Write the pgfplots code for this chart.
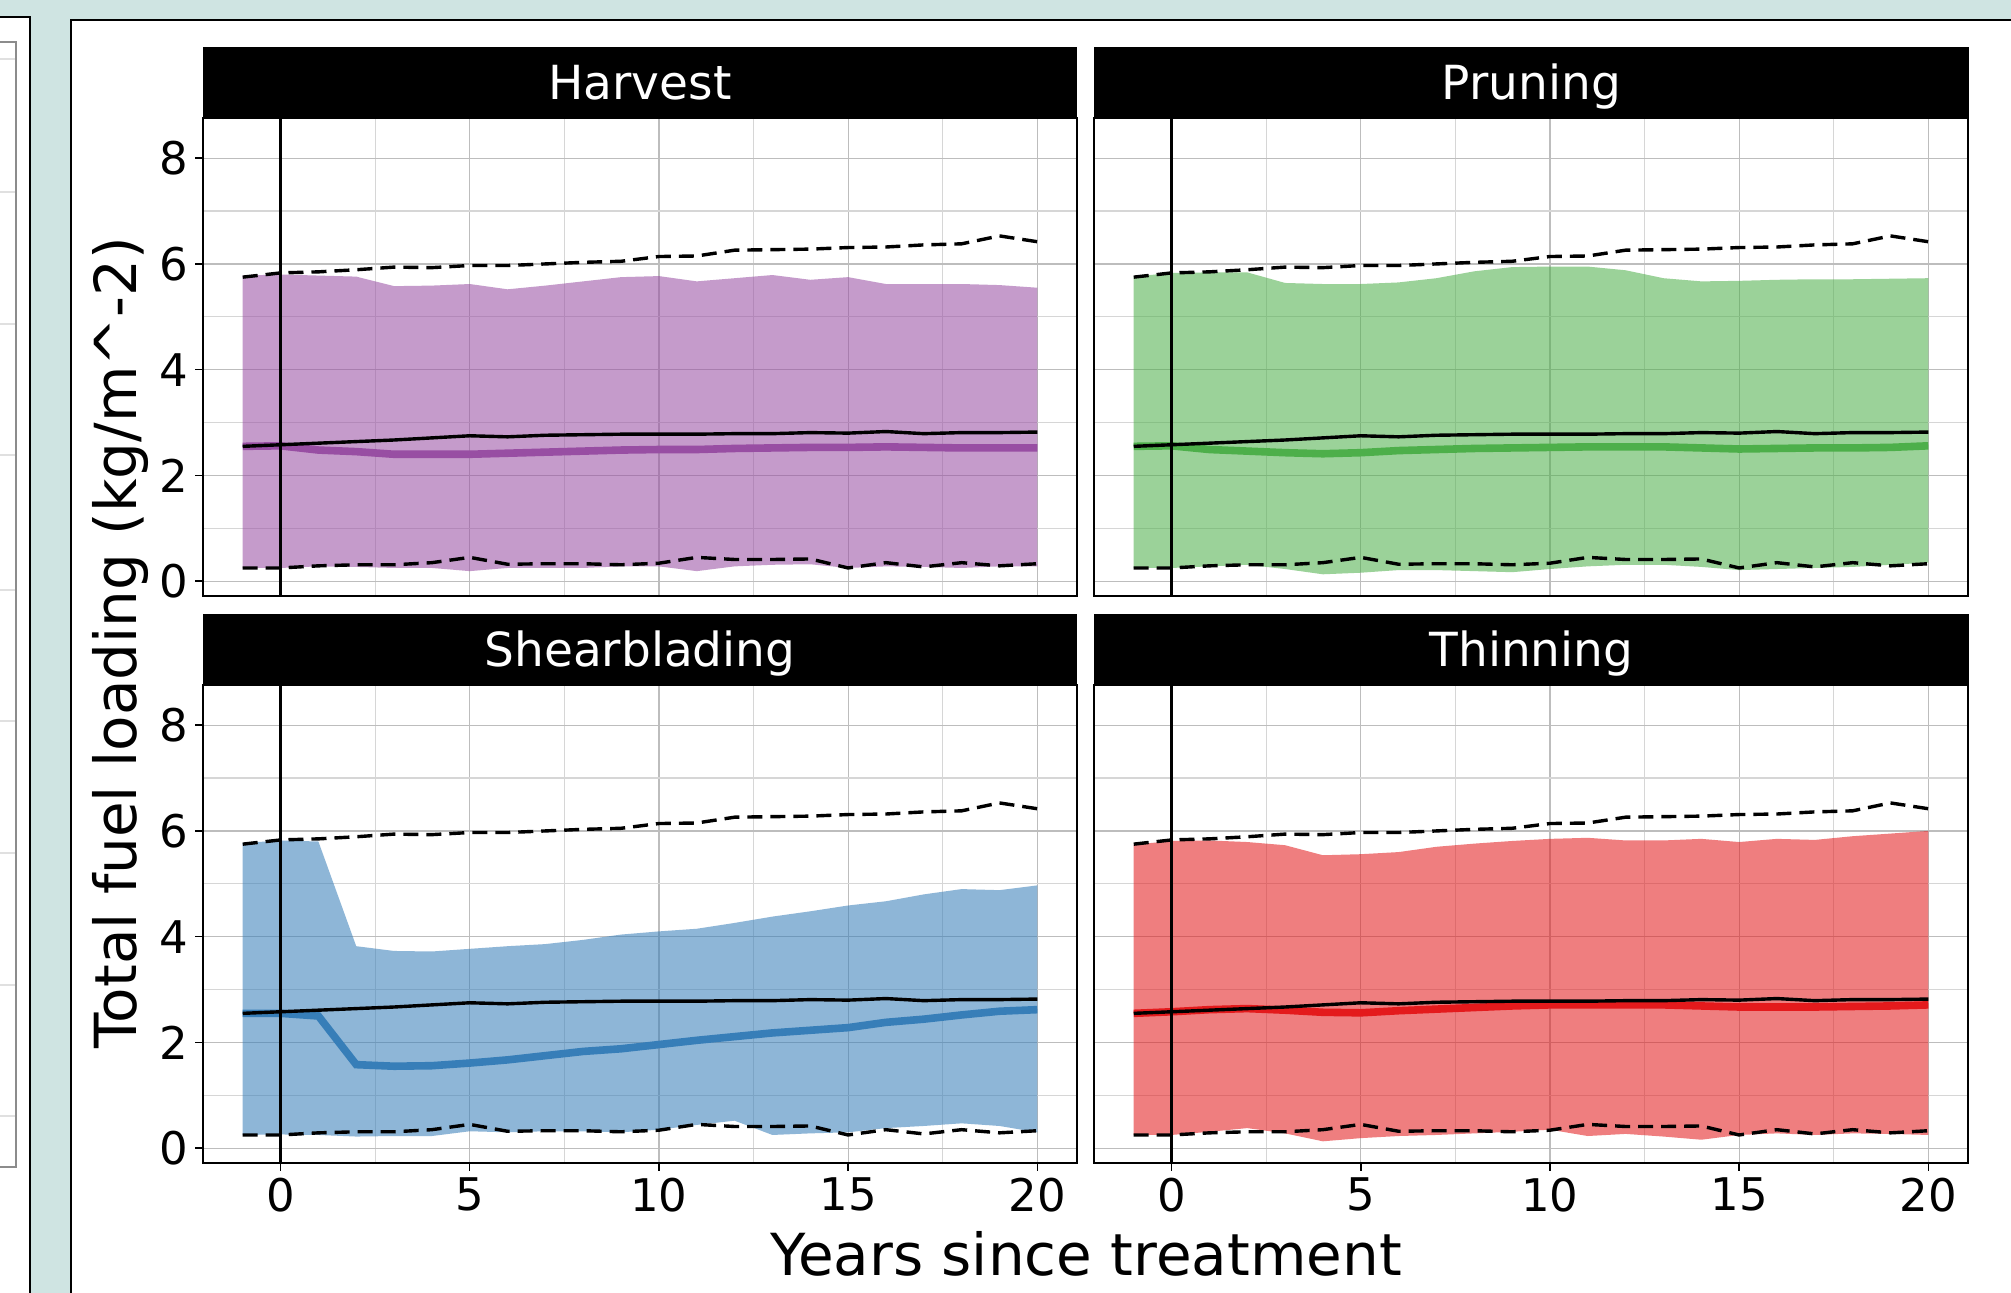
\documentclass[border=0pt]{standalone}
\usepackage{fontspec}
\setmainfont{DejaVu Sans}
\usepackage{pgfplots}
\usepackage{pgfplotstable}
\pgfplotsset{compat=1.18}

\definecolor{bgteal}{RGB}{207,228,226}
\definecolor{cpurple}{RGB}{152,78,163}
\definecolor{cgreen}{RGB}{77,175,74}
\definecolor{cblue}{RGB}{55,126,184}
\definecolor{cred}{RGB}{228,26,28}

% control (untreated) median and band, identical in all panels
\pgfplotstableread{
x ctl chi clo
-1 2.55 5.75 0.25
0 2.58 5.83 0.25
1 2.61 5.85 0.29
2 2.64 5.89 0.31
3 2.67 5.94 0.31
4 2.71 5.93 0.35
5 2.75 5.97 0.45
6 2.73 5.97 0.32
7 2.76 6.00 0.33
8 2.77 6.03 0.33
9 2.78 6.05 0.31
10 2.78 6.14 0.34
11 2.78 6.15 0.45
12 2.79 6.26 0.41
13 2.79 6.27 0.41
14 2.81 6.28 0.42
15 2.80 6.31 0.25
16 2.83 6.32 0.35
17 2.79 6.36 0.27
18 2.81 6.38 0.35
19 2.81 6.53 0.29
20 2.82 6.42 0.33
}\control

% treatment medians
\pgfplotstableread{
x harvest pruning shear thinning
-1 2.55 2.55 2.55 2.55
0 2.56 2.56 2.55 2.58
1 2.48 2.49 2.50 2.62
2 2.45 2.46 1.58 2.64
3 2.40 2.43 1.55 2.61
4 2.40 2.41 1.56 2.57
5 2.40 2.43 1.61 2.56
6 2.42 2.47 1.67 2.60
7 2.44 2.49 1.75 2.63
8 2.46 2.51 1.83 2.66
9 2.48 2.52 1.88 2.69
10 2.49 2.53 1.96 2.71
11 2.49 2.54 2.04 2.71
12 2.51 2.54 2.11 2.71
13 2.52 2.54 2.18 2.71
14 2.53 2.52 2.23 2.69
15 2.53 2.50 2.28 2.67
16 2.54 2.51 2.38 2.67
17 2.53 2.52 2.44 2.67
18 2.52 2.52 2.52 2.68
19 2.52 2.53 2.59 2.69
20 2.52 2.56 2.62 2.71
}\medians

\pgfplotsset{
  panel/.style={
    scale only axis, width=437pt, height=239pt,
    anchor=south west,
    xmin=-2.05, xmax=21.05, ymin=-0.28, ymax=8.76,
    xtick={0,5,10,15,20}, ytick={0,2,4,6,8},
    minor xtick={2.5,7.5,12.5,17.5}, minor ytick={1,3,5,7},
    grid=both,
    major grid style={draw=black!26, line width=0.6pt},
    minor grid style={draw=black!16, line width=0.6pt},
    tick align=outside, tick pos=left,
    major tick length=4pt, minor tick length=0pt,
    tick style={black, line width=0.75pt},
    axis line style={black, line width=0.6pt},
    ticklabel style={font=\fontsize{22.5}{27}\selectfont},
    /pgf/number format/assume math mode=true,
  },
  notopx/.style={xticklabels={}, xtick style={draw=none}},
  norighty/.style={yticklabels={}, ytick style={draw=none}},
}

% #1 band polygon (upper edge forward, lower edge backward), #2 median column, #3 colour
\newcommand{\panelplots}[3]{%
  \addplot[fill=#3, fill opacity=0.56, draw=none] coordinates {#1};
  \addplot[#3, line width=3.8pt] table[x=x,y=#2]{\medians};
  \addplot[black, line width=1.7pt] table[x=x,y=ctl]{\control};
  \addplot[black, line width=1.7pt, dash pattern=on 7.5pt off 4pt] table[x=x,y=chi]{\control};
  \addplot[black, line width=1.7pt, dash pattern=on 7.5pt off 4pt] table[x=x,y=clo]{\control};
  \addplot[black, line width=1.6pt] coordinates {(0,-1) (0,10)};
}

\begin{document}
\begin{tikzpicture}
\fill[bgteal] (0,0) rectangle (1005.5pt,646.5pt);
% left partial panel
\filldraw[fill=white, draw=black, line width=1pt] (-5pt,-5pt) rectangle (15pt,638pt);
\draw[black!45, line width=0.8pt] (-5pt,63pt) rectangle (8pt,625.5pt);
\foreach \yy in {59,192,324,455,590,721,853,985,1116} {
  \draw[black!12, line width=0.6pt] (-5pt,{(1293-\yy)/2*1pt}) -- (7.5pt,{(1293-\yy)/2*1pt});
}
% main panel
\filldraw[fill=white, draw=black, line width=1pt] (35.5pt,-5pt) rectangle (1012pt,636.5pt);

% strips
\fill[black] (101.5pt,587.5pt) rectangle (538.5pt,623pt);
\fill[black] (547pt,587.5pt) rectangle (984.5pt,623pt);
\fill[black] (101.5pt,304pt) rectangle (538.5pt,339.5pt);
\fill[black] (547pt,304pt) rectangle (984.5pt,339.5pt);
\node[white, anchor=base, font=\fontsize{23.5}{28}\selectfont, inner sep=0pt] at (320pt,596.5pt) {Harvest};
\node[white, anchor=base, font=\fontsize{23.5}{28}\selectfont, inner sep=0pt] at (765.75pt,596.5pt) {Pruning};
\node[white, anchor=base, font=\fontsize{23.5}{28}\selectfont, inner sep=0pt] at (320pt,313pt) {Shearblading};
\node[white, anchor=base, font=\fontsize{23.5}{28}\selectfont, inner sep=0pt] at (765.75pt,313pt) {Thinning};

\begin{axis}[panel, notopx, at={(101.5pt,348.5pt)}]
\panelplots{(-1,5.78) (0,5.80) (1,5.78) (2,5.76) (3,5.58) (4,5.59) (5,5.62) (6,5.52) (7,5.59) (8,5.67) (9,5.75) (10,5.77) (11,5.67) (12,5.73) (13,5.79) (14,5.70) (15,5.75) (16,5.62) (17,5.62) (18,5.62) (19,5.60) (20,5.55)
 (20,0.28) (19,0.28) (18,0.25) (17,0.27) (16,0.28) (15,0.25) (14,0.32) (13,0.31) (12,0.28) (11,0.19) (10,0.28) (9,0.28) (8,0.25) (7,0.25) (6,0.25) (5,0.19) (4,0.25) (3,0.25) (2,0.27) (1,0.28) (0,0.25) (-1,0.25)}{harvest}{cpurple}
\end{axis}
\begin{axis}[panel, notopx, norighty, at={(547pt,348.5pt)}]
\panelplots{(-1,5.76) (0,5.83) (1,5.84) (2,5.84) (3,5.64) (4,5.62) (5,5.62) (6,5.65) (7,5.73) (8,5.86) (9,5.94) (10,5.95) (11,5.95) (12,5.88) (13,5.73) (14,5.67) (15,5.68) (16,5.70) (17,5.71) (18,5.71) (19,5.72) (20,5.73)
 (20,0.35) (19,0.31) (18,0.27) (17,0.25) (16,0.23) (15,0.21) (14,0.27) (13,0.31) (12,0.31) (11,0.28) (10,0.23) (9,0.17) (8,0.19) (7,0.21) (6,0.21) (5,0.16) (4,0.13) (3,0.23) (2,0.31) (1,0.28) (0,0.25) (-1,0.25)}{pruning}{cgreen}
\end{axis}
\begin{axis}[panel, at={(101.5pt,65pt)}]
\panelplots{(-1,5.77) (0,5.82) (1,5.80) (2,3.82) (3,3.73) (4,3.72) (5,3.77) (6,3.82) (7,3.86) (8,3.94) (9,4.04) (10,4.10) (11,4.15) (12,4.26) (13,4.38) (14,4.48) (15,4.59) (16,4.67) (17,4.80) (18,4.90) (19,4.88) (20,4.97)
 (20,0.30) (19,0.42) (18,0.47) (17,0.42) (16,0.38) (15,0.30) (14,0.28) (13,0.25) (12,0.52) (11,0.44) (10,0.35) (9,0.30) (8,0.32) (7,0.32) (6,0.30) (5,0.32) (4,0.23) (3,0.23) (2,0.22) (1,0.25) (0,0.26) (-1,0.25)}{shear}{cblue}
\end{axis}
\begin{axis}[panel, norighty, at={(547pt,65pt)}]
\panelplots{(-1,5.74) (0,5.81) (1,5.82) (2,5.79) (3,5.73) (4,5.54) (5,5.56) (6,5.60) (7,5.70) (8,5.76) (9,5.81) (10,5.85) (11,5.87) (12,5.82) (13,5.82) (14,5.85) (15,5.79) (16,5.85) (17,5.83) (18,5.90) (19,5.95) (20,6.00)
 (20,0.25) (19,0.27) (18,0.28) (17,0.25) (16,0.28) (15,0.25) (14,0.16) (13,0.22) (12,0.27) (11,0.23) (10,0.35) (9,0.31) (8,0.28) (7,0.25) (6,0.23) (5,0.19) (4,0.13) (3,0.28) (2,0.38) (1,0.31) (0,0.25) (-1,0.25)}{thinning}{cred}
\end{axis}

\node[anchor=base, font=\fontsize{29}{34}\selectfont] at (543pt,8.5pt) {Years since treatment};
\node[anchor=base, rotate=90, font=\fontsize{29}{34}\selectfont] at (68pt,325pt) {Total fuel loading (kg/m\textasciicircum-2)};
\pgfresetboundingbox
\path[use as bounding box] (0,0) rectangle (1005.5pt,646.5pt);
\end{tikzpicture}
\end{document}
